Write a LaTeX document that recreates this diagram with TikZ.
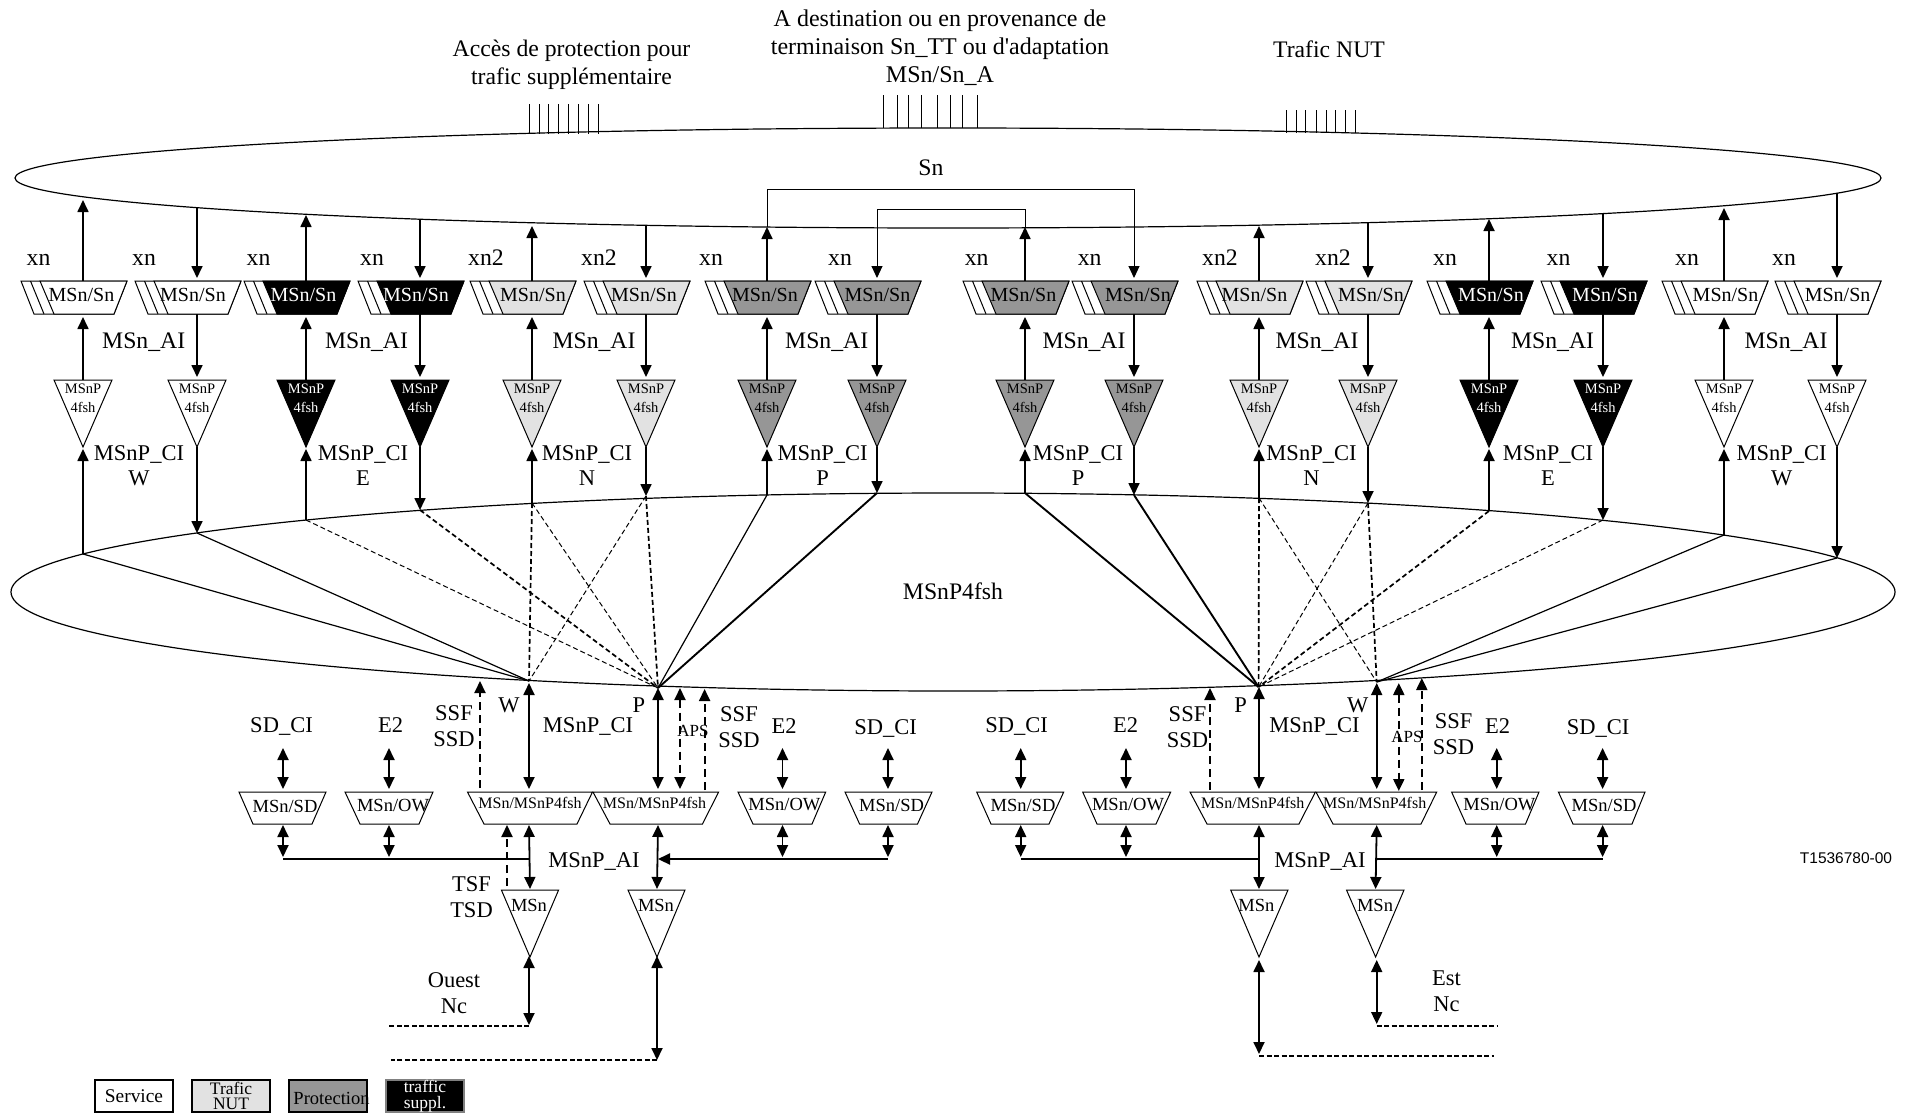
\documentclass[tikz,border=0pt]{standalone}
\usepackage{fontspec}
\setmainfont{Liberation Serif}
\setsansfont{Liberation Sans}
\newfontface\nomap{Liberation Serif}
\usetikzlibrary{arrows.meta}
\definecolor{nutc}{HTML}{E2E2E2}
\definecolor{protc}{HTML}{969696}
\definecolor{svcc}{HTML}{FFFFFF}
\definecolor{supc}{HTML}{000000}
\newcount\labn
\tikzset{
  ring/.style={line width=1.2pt},
  box/.style={line width=1pt,draw=black},
  conn/.style={line width=1.7pt,-{Triangle[length=12pt,width=11pt]}},
  xconn/.style={line width=1pt,-{Triangle[length=12pt,width=11pt]}},
  xline/.style={line width=1pt},
  dbl/.style={line width=1.8pt,{Triangle[length=12pt,width=11pt]}-{Triangle[length=12pt,width=11pt]}},
  bus/.style={line width=2.2pt},
  dconn/.style={conn,line width=2pt,dash pattern=on 8pt off 5pt},
  ddbl/.style={dbl,line width=2pt,dash pattern=on 8pt off 5pt},
  tick/.style={line width=1pt},
  solidthin/.style={line width=1.2pt},
  solidthick/.style={line width=1.9pt},
  dashthin/.style={line width=1pt,dash pattern=on 5pt off 3pt},
  dashthick/.style={line width=1.7pt,dash pattern=on 5pt off 3pt},
  dashline/.style={line width=1.6pt,dash pattern=on 5pt off 2.5pt},
  lab/.style={inner sep=0pt,font=\fontsize{22.5}{26}\selectfont,align=center},
  biglab/.style={inner sep=0pt,font=\fontsize{23.7}{28}\selectfont,align=center},
  adtxt/.style={inner sep=0pt,font=\fontsize{20}{24}\selectfont},
  ttxt/.style={inner sep=0pt,font=\fontsize{14.5}{19}\selectfont,align=center},
  low/.style={inner sep=0pt,font=\fontsize{18.5}{22}\selectfont},
  lowb/.style={inner sep=0pt,font=\fontsize{16}{20}\selectfont},
  legbox/.style={draw=#1,line width=1.1pt,minimum width=78pt,minimum height=32pt,inner sep=0pt,align=center,font=\fontsize{17.5}{15.5}\selectfont},
}
% text label: x, y, text, extra style
\newcommand\Lab[4][]{\global\advance\labn by 1 \node[lab,#1] (lab\the\labn) at (#2,#3) {#4};}
% column of the upper part: index, x, fill, text colour, text dx, U/D/X, y on Sn, y on lower ring
\newcommand\Col[8]{%
  \filldraw[box,fill=white] ({#2-62},281) -- ({#2+44},281) -- ({#2+31},314) -- ({#2-49},314) -- cycle;
  \filldraw[box,fill=#3] ({#2-43},281) -- ({#2+44},281) -- ({#2+31},314) -- ({#2-29},314) -- cycle;
  \draw[box] ({#2-52.5},281) -- ({#2-39},314);
  \node[adtxt,text=#4] (a#1) at ({#2+#5},294.5) {MSn/Sn};
  \filldraw[box,fill=#3] ({#2-29},380) -- ({#2+29},380) -- (#2,447) -- cycle;
  \node[ttxt,text=#4] (f#1) at (#2,398) {MSnP\\4fsh};
  \coordinate (s#1) at (#2,#7);
  \coordinate (l#1) at (#2,#8);
  \coordinate (at#1) at (#2,281);
  \coordinate (ab#1) at (#2,314);
  \coordinate (ft#1) at (#2,380);
  \coordinate (fb#1) at (#2,447);
  \if#6U
    \draw[conn] (l#1) -- (#2,449);
    \draw[conn] (ft#1) -- (#2,317);
    \draw[conn] (at#1) -- (s#1);
  \else
    \if#6D
      \draw[conn] (s#1) -- (#2,278);
    \else
      \draw[xconn] (s#1) -- (#2,278);
    \fi
    \draw[conn] (ab#1) -- (#2,377);
    \draw[conn] (fb#1) -- (l#1);
  \fi
}
% lower adapter: name, col x, top-left, top-right, bottom-right, bottom-left, text x, text y, style, text
\newcommand\Adp[9]{%
  \draw[box] (#3,792) -- (#4,792) -- (#5,824) -- (#6,824) -- cycle;
  \coordinate (#1T) at (#2,789);
  \coordinate (#1B) at (#2,825);
  \node[#9] (#1) at (#7,#8)
}
% MSn triangle: name, left, right, apex x, text x
\newcommand\Tri[5]{%
  \draw[box] (#2,890) -- (#3,890) -- (#4,957) -- cycle;
  \node[low] (#1) at (#5,905) {MSn};
  \coordinate (#1T) at (#4,889);
}
\begin{document}
\begin{tikzpicture}[x=1pt,y=-1pt]
\useasboundingbox (0,0) rectangle (1907,1114);
\fill[white] (0,0) rectangle (1907,1114);

% rings
\draw[ring] (948,178) ellipse [x radius=933,y radius=50];
\draw[ring] (953,592) ellipse [x radius=942,y radius=99];
\Lab[biglab]{931}{168}{Sn}
\Lab[biglab]{953}{591}{MSnP4fsh}

% hubs on the lower ring
\coordinate (hubWL) at (529,681);
\coordinate (hubPL) at (658,688);
\coordinate (hubPR) at (1258.6,687);
\coordinate (hubWR) at (1376.7,682);

% columns
\Col{1}{83}{svcc}{black}{-1.5}{U}{200}{554}
\Col{2}{197}{svcc}{black}{-4}{D}{208}{533}
\Col{3}{306}{supc}{white}{-2.5}{U}{215}{520}
\Col{4}{420}{supc}{white}{-4}{D}{219}{510}
\Col{5}{532}{nutc}{black}{1}{U}{226}{503}
\Col{6}{646}{nutc}{black}{-2}{D}{225}{496}
\Col{7}{767}{protc}{black}{-2}{U}{227}{495}
\Col{8}{877}{protc}{black}{0.5}{X}{209}{493}
\Col{9}{1025}{protc}{black}{-1.5}{U}{227}{493}
\Col{10}{1134}{protc}{black}{4}{X}{189}{495}
\Col{11}{1259}{nutc}{black}{-4.5}{U}{226}{498}
\Col{12}{1368}{nutc}{black}{3}{D}{223}{503}
\Col{13}{1489}{supc}{white}{2}{U}{219}{511}
\Col{14}{1603}{supc}{white}{2}{D}{213}{520}
\Col{15}{1724}{svcc}{black}{1.5}{U}{208}{535}
\Col{16}{1837}{svcc}{black}{0.6}{D}{193}{558}

% cross-connects in the Sn ring
\draw[xline] (s7) |- (s10);
\draw[xline] (s9) |- (s8);

% connections inside the lower ring
\draw[solidthin] (l1) -- (hubWL);
\draw[solidthin] (l2) -- (hubWL);
\draw[dashthin] (l3) -- (hubPL);
\draw[dashthick] (l4) -- (hubPL);
\draw[dashthick] (l5) -- (hubWL);
\draw[dashthin] (l5) -- (hubPL);
\draw[dashthin] (l6) -- (hubWL);
\draw[dashthick] (l6) -- (hubPL);
\draw[solidthin] (l7) -- (hubPL);
\draw[solidthick] (l8) -- (hubPL);
\draw[solidthick] (l9) -- (hubPR);
\draw[solidthick] (l10) -- (hubPR);
\draw[dashthick] (l11) -- (hubPR);
\draw[dashthin] (l11) -- (hubWR);
\draw[dashthin] (l12) -- (hubPR);
\draw[dashthick] (l12) -- (hubWR);
\draw[dashthick] (l13) -- (hubPR);
\draw[dashthin] (l14) -- (hubPR);
\draw[solidthin] (l15) -- (hubWR);
\draw[solidthin] (l16) -- (hubWR);

% top texts
\Lab[biglab]{571.5}{65}{Accès de protection pour\\trafic supplémentaire}
\Lab[biglab,font=\fontsize{24}{28}\selectfont]{940}{47.5}{A destination ou en provenance de\\terminaison Sn\_TT ou d{\nomap'}adaptation\\MSn/Sn\_A}
\Lab[biglab]{1329}{49}{Trafic NUT}

% terminal ticks
\foreach \k/\tx in {1/529.5,2/539,3/548.6,4/558,5/568,6/578,7/588,8/598}{
  \coordinate (pa\k) at (\tx,104);
  \coordinate (pb\k) at (\tx,134);
  \draw[tick] (pa\k) -- (pb\k);
}
\foreach \k/\tx in {1/883.4,2/897.5,3/908,4/921.7,5/937.6,6/950,7/962,8/977}{
  \coordinate (qa\k) at (\tx,95);
  \coordinate (qb\k) at (\tx,128);
  \draw[tick] (qa\k) -- (qb\k);
}
\foreach \k/\tx in {1/1286.5,2/1296,3/1305.6,4/1316,5/1326,6/1335.6,7/1345,8/1355}{
  \coordinate (ra\k) at (\tx,110);
  \coordinate (rb\k) at (\tx,133);
  \draw[tick] (ra\k) -- (rb\k);
}

% column labels
\foreach \tx/\tl in {38.5/xn,144/xn,258.5/xn,372/xn,486/xn2,599/xn2,711/xn,840/xn,976.7/xn,1089.6/xn,1220/xn2,1333/xn2,1445/xn,1558.5/xn,1687/xn,1784/xn}{
  \global\advance\labn by 1
  \node[biglab,anchor=base] (lab\the\labn) at (\tx,265) {\tl};
}
\foreach \tx in {143.7,366.5,594,826.7,1084,1317,1552.6,1786}{
  \global\advance\labn by 1
  \node[biglab,anchor=base] (lab\the\labn) at (\tx,348) {MSn\_AI};
}
\foreach \tx/\tl in {139/W,363/E,587/N,822.6/P,1078/P,1311.5/N,1548/E,1781.6/W}{
  \global\advance\labn by 1
  \node[lab,font=\fontsize{22.5}{25}\selectfont] (lab\the\labn) at (\tx,465.5) {MSnP\_CI\\\tl};
}

% lower left block
\Adp{sdA}{283}{239}{326}{312}{253}{285}{806}{low}{MSn/SD};
\Adp{owA}{389}{345}{433}{419}{360}{393}{806}{low}{MSn/OW};
\Adp{mwA}{529}{467.5}{592.5}{577}{484}{530}{803}{lowb}{MSn/MSnP4fsh};
\Adp{mpA}{658}{593}{718.6}{702.5}{610}{654.5}{803}{lowb}{MSn/MSnP4fsh};
\Adp{owB}{782.5}{738}{825.7}{812}{753}{784.4}{805}{low}{MSn/OW};
\Adp{sdB}{888}{845}{932}{917.5}{859.6}{891.6}{805}{low}{MSn/SD};
\Tri{tA}{501.4}{558.6}{530}{529}
\Tri{tB}{628}{685}{657}{656}

\Lab{281.5}{726}{SD\_CI}
\Lab{390.5}{725}{E2}
\Lab{784}{726}{E2}
\Lab{885.5}{728}{SD\_CI}
\Lab{454}{726}{SSF\\SSD}
\Lab{739}{727}{SSF\\SSD}
\Lab{509}{705}{W}
\Lab{639}{705}{P}
\Lab{588}{726}{MSnP\_CI}
\Lab[font=\fontsize{17}{20}\selectfont]{693}{731}{APS}
\Lab{594}{861}{MSnP\_AI}
\Lab{471.5}{897}{TSF\\TSD}
\Lab{454}{993}{Ouest\\Nc}

\foreach \n/\cx in {sdA/283,owA/389,owB/782.5,sdB/888}{
  \coordinate (\n F) at (\cx,748);
  \coordinate (\n L) at (\cx,857);
  \draw[dbl] (\n F) -- (\n T);
  \draw[dbl] (\n B) -- (\n L);
}
\coordinate (busA) at (283,859);
\coordinate (busAe) at (529,859);
\coordinate (busB) at (888,859);
\coordinate (busBe) at (658,859);
\draw[bus] (busA) -- (busAe);
\draw[bus,-{Triangle[length=12pt,width=11pt]}] (busB) -- (busBe);

\coordinate (upW) at (529,683);
\coordinate (upP) at (658,688);
\draw[dbl] (upW) -- (mwAT);
\draw[dbl] (upP) -- (mpAT);
\draw[dbl] (mwAB) -- (tAT);
\draw[dbl] (mpAB) -- (tBT);
\coordinate (ssfAa) at (480,788);
\coordinate (ssfAb) at (480,681);
\draw[dconn] (ssfAa) -- (ssfAb);
\coordinate (apsAa) at (680,688);
\coordinate (apsAb) at (680,789);
\draw[ddbl] (apsAa) -- (apsAb);
\coordinate (ssfBa) at (704.6,790);
\coordinate (ssfBb) at (704.6,689);
\draw[dconn] (ssfBa) -- (ssfBb);
\coordinate (tsfA) at (507,886);
\coordinate (tsfB) at (507,825);
\draw[dconn] (tsfA) -- (tsfB);

\coordinate (ncAa) at (529,956);
\coordinate (ncAb) at (529,1025);
\coordinate (ncAc) at (389,1026);
\draw[dbl] (ncAa) -- (ncAb);
\draw[dashline] (ncAb |- ncAc) -- (ncAc);
\coordinate (ncBa) at (657,956);
\coordinate (ncBb) at (657,1060);
\coordinate (ncBc) at (391,1060);
\draw[dbl] (ncBa) -- (ncBb);
\draw[dashline] (ncBb) -- (ncBc);

% lower right block
\Adp{sdC}{1020.7}{976.7}{1063.7}{1049}{991}{1023}{805}{low}{MSn/SD};
\Adp{owC}{1126}{1082.7}{1170.7}{1156}{1097}{1128}{805}{low}{MSn/OW};
\Adp{mpC}{1259}{1190}{1315.4}{1299}{1207}{1252.8}{803}{lowb}{MSn/MSnP4fsh};
\Adp{mwC}{1376.7}{1316}{1436.7}{1421}{1333}{1374.7}{803}{lowb}{MSn/MSnP4fsh};
\Adp{owD}{1496.7}{1451.6}{1539}{1525.5}{1466}{1499.4}{805}{low}{MSn/OW};
\Adp{sdD}{1602.6}{1558.4}{1645}{1632}{1573}{1604}{805}{low}{MSn/SD};
\Tri{tC}{1230.7}{1288}{1259}{1256.4}
\Tri{tD}{1346.5}{1404}{1375.6}{1375}

\Lab{1016.7}{726}{SD\_CI}
\Lab{1125.5}{725}{E2}
\Lab{1497.6}{726}{E2}
\Lab{1598}{728}{SD\_CI}
\Lab{1187.5}{727}{SSF\\SSD}
\Lab{1453.6}{734}{SSF\\SSD}
\Lab{1240.7}{705}{P}
\Lab{1357.8}{705}{W}
\Lab{1314.5}{726}{MSnP\_CI}
\Lab[font=\fontsize{17}{20}\selectfont]{1407}{737}{APS}
\Lab{1320}{861}{MSnP\_AI}
\Lab{1446.6}{991}{Est\\Nc}

\foreach \n/\cx in {sdC/1020.7,owC/1126,owD/1496.7,sdD/1602.6}{
  \coordinate (\n F) at (\cx,748);
  \coordinate (\n L) at (\cx,857);
  \draw[dbl] (\n F) -- (\n T);
  \draw[dbl] (\n B) -- (\n L);
}
\coordinate (busC) at (1020.7,859);
\coordinate (busCe) at (1259,859);
\coordinate (busD) at (1602.6,859);
\coordinate (busDe) at (1376.7,859);
\draw[bus] (busC) -- (busCe);
\draw[bus] (busD) -- (busDe);

\coordinate (upPr) at (1259,687);
\coordinate (upWr) at (1376.7,683);
\draw[dbl] (upPr) -- (mpCT);
\draw[dbl] (upWr) -- (mwCT);
\draw[dbl] (mpCB) -- (tCT);
\draw[dbl] (mwCB) -- (tDT);
\coordinate (ssfCa) at (1210,790);
\coordinate (ssfCb) at (1210,688);
\draw[dconn] (ssfCa) -- (ssfCb);
\coordinate (apsCa) at (1398.8,683);
\coordinate (apsCb) at (1398.8,791);
\draw[ddbl] (apsCa) -- (apsCb);
\coordinate (ssfDa) at (1421.8,790);
\coordinate (ssfDb) at (1421.8,678);
\draw[dconn] (ssfDa) -- (ssfDb);

\coordinate (ncCa) at (1259,960);
\coordinate (ncCb) at (1259,1054);
\coordinate (ncCc) at (1494.4,1056);
\draw[dbl] (ncCa) -- (ncCb);
\draw[dashline] (ncCb |- ncCc) -- (ncCc);
\coordinate (ncDa) at (1376.7,960);
\coordinate (ncDb) at (1376.7,1024);
\coordinate (ncDc) at (1497.6,1026);
\draw[dbl] (ncDa) -- (ncDb);
\draw[dashline] (ncDb |- ncDc) -- (ncDc);

% figure reference
\node[inner sep=0pt,font=\sffamily\fontsize{15.5}{18}\selectfont] (ref) at (1846,858) {T1536780-00};

% legend
\node[legbox=black,fill=white,font=\fontsize{19.4}{22}\selectfont] (legA) at (134,1096) {Service};
\node[legbox=black,fill=nutc] (legB) at (231,1096) {Trafic\\NUT};
\node[legbox=black,fill=protc] (legC) at (328,1096) {};
\node[inner sep=0pt,font=\fontsize{18.5}{20}\selectfont] (legCt) at (331.5,1098) {Protection};
\node[legbox=gray,fill=black,text=white] (legD) at (425,1096) {traffic\\suppl.};
\end{tikzpicture}
\end{document}
